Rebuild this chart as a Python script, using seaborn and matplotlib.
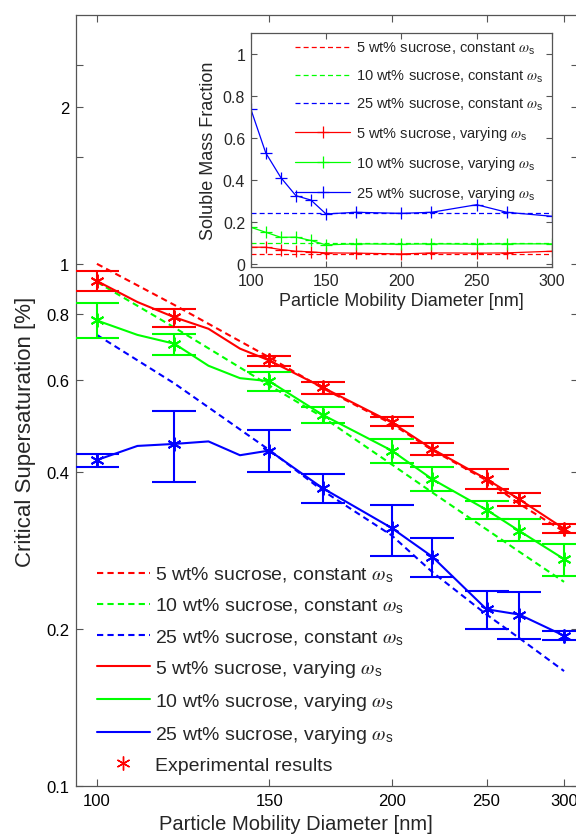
import numpy as np
import pandas as pd
import matplotlib
matplotlib.use("Agg")
import matplotlib.pyplot as plt
import seaborn as sns
from matplotlib.lines import Line2D
from matplotlib.ticker import NullLocator

# ---------------- data ----------------
x_model = [100, 120, 150, 170, 200, 220, 250, 270, 300]
const_5 = [1.00, 0.834, 0.662, 0.578, 0.494, 0.440, 0.385, 0.347, 0.307]
const_10 = [0.923, 0.755, 0.585, 0.509, 0.413, 0.365, 0.310, 0.281, 0.246]
const_25 = [0.731, 0.590, 0.440, 0.368, 0.302, 0.257, 0.213, 0.192, 0.166]

x_vary = [100, 110, 120, 130, 140, 150, 170, 200, 220, 250, 270, 300]
vary_5 = [0.927, 0.845, 0.790, 0.751, 0.688, 0.653, 0.580, 0.497, 0.442, 0.387, 0.354, 0.311]
vary_10 = [0.779, 0.731, 0.703, 0.638, 0.604, 0.596, 0.514, 0.439, 0.387, 0.338, 0.308, 0.272]
vary_25 = [0.421, 0.448, 0.452, 0.457, 0.430, 0.439, 0.372, 0.312, 0.275, 0.218, 0.213, 0.194]

x_exp = [100, 120, 150, 170, 200, 220, 250, 270, 300]
exp_5 = [0.927, 0.790, 0.653, 0.580, 0.497, 0.442, 0.387, 0.354, 0.311]
exp_5_lo = [0.888, 0.757, 0.637, 0.564, 0.490, 0.431, 0.371, 0.344, 0.305]
exp_5_hi = [0.967, 0.820, 0.667, 0.595, 0.509, 0.454, 0.405, 0.364, 0.317]
exp_10 = [0.779, 0.703, 0.596, 0.514, 0.439, 0.387, 0.338, 0.308, 0.272]
exp_10_lo = [0.720, 0.669, 0.572, 0.496, 0.416, 0.367, 0.325, 0.294, 0.252]
exp_10_hi = [0.841, 0.734, 0.620, 0.533, 0.462, 0.408, 0.351, 0.325, 0.291]
exp_25 = [0.421, 0.452, 0.439, 0.372, 0.312, 0.275, 0.218, 0.213, 0.194]
exp_25_lo = [0.408, 0.382, 0.400, 0.349, 0.276, 0.251, 0.200, 0.191, 0.190]
exp_25_hi = [0.433, 0.522, 0.480, 0.395, 0.346, 0.299, 0.236, 0.235, 0.198]

# inset: soluble mass fraction
x_inset = [100, 110, 120, 130, 140, 150, 170, 200, 220, 250, 270, 300]
smf_const = [0.05, 0.10, 0.245]
smf_5 = [0.082, 0.082, 0.071, 0.063, 0.060, 0.055, 0.054, 0.050, 0.055, 0.054, 0.055, 0.063]
smf_10 = [0.177, 0.153, 0.129, 0.130, 0.114, 0.093, 0.098, 0.096, 0.098, 0.096, 0.098, 0.098]
smf_25 = [0.740, 0.530, 0.413, 0.327, 0.306, 0.240, 0.248, 0.243, 0.248, 0.284, 0.248, 0.229]

x_ticks = [100, 150, 200, 250, 300]
y_ticks = [0.1, 0.2, 0.4, 0.6, 0.8, 1, 1.6, 2, 2.4]
y_ticklabels = ["0.1", "0.2", "0.4", "0.6", "0.8", "1", "", "2", ""]
inset_yticks = [0, 0.2, 0.4, 0.6, 0.8, 1]

series = ["5 wt% sucrose", "10 wt% sucrose", "25 wt% sucrose"]
colors = ["#ff0000", "#00ff00", "#0000ff"]
omega = r"$\omega_\mathregular{s}$"

# ---------------- style ----------------
sns.set_style("ticks")
plt.rcParams["font.family"] = ["Liberation Sans", "DejaVu Sans"]
plt.rcParams["mathtext.fontset"] = "stix"
spine_col = "#555555"

W, H = 576, 837
fig = plt.figure(figsize=(W / 100, H / 100), dpi=100)

# main axes (pixel geometry)
L, R, T, B = 76, 578, 15.7, 787
ax = fig.add_axes([L / W, (H - B) / H, (R - L) / W, (B - T) / H])
ax.set_xscale("log")
ax.set_yscale("log")

dash = (3.0, 2.0)
const_main = [const_5, const_10, const_25]
vary_main = [vary_5, vary_10, vary_25]
exps = [(exp_5, exp_5_lo, exp_5_hi), (exp_10, exp_10_lo, exp_10_hi), (exp_25, exp_25_lo, exp_25_hi)]

for c, yv in zip(colors, const_main):
    df = pd.DataFrame({"d": x_model, "s": yv})
    sns.lineplot(data=df, x="d", y="s", ax=ax, color=c, lw=1.5, estimator=None,
                 sort=False, legend=False, dashes=False, linestyle=(0, dash))
for c, yv in zip(colors, vary_main):
    df = pd.DataFrame({"d": x_vary, "s": yv})
    sns.lineplot(data=df, x="d", y="s", ax=ax, color=c, lw=1.5, estimator=None,
                 sort=False, legend=False)
ast = (6, 2, 0)
for c, (m, lo, hi) in zip(colors, exps):
    m = np.array(m); lo = np.array(lo); hi = np.array(hi)
    ax.errorbar(x_exp, m, yerr=[m - lo, hi - m], fmt="none", ecolor=c,
                elinewidth=1.5, capsize=16, capthick=1.5, zorder=4)
    ax.plot(x_exp, m, linestyle="none", marker=ast, markersize=10,
            markeredgecolor=c, markeredgewidth=1.4, color=c, zorder=5)

ax.set_xlim(95.2, 310.0)
ax.set_ylim(0.1, 3.0)
ax.set_xticks(x_ticks, labels=[str(v) for v in x_ticks])
ax.set_yticks(y_ticks, labels=y_ticklabels)
ax.xaxis.set_minor_locator(NullLocator())
ax.yaxis.set_minor_locator(NullLocator())
ax.tick_params(which="both", direction="in", top=True, right=True, length=5,
               width=0.8, color=spine_col, labelsize=12, labelcolor="black")
ax.tick_params(axis="y", pad=5)
ax.tick_params(axis="x", pad=5)
for sp in ax.spines.values():
    sp.set_color(spine_col)
    sp.set_linewidth(0.9)

ax.set_xlabel("Particle Mobility Diameter [nm]", fontsize=14.5)
ax.set_ylabel("Critical Supersaturation [%]", fontsize=16)
ax.xaxis.set_label_coords((295.5 - L) / (R - L), (B - 815) / (B - T))
ax.yaxis.set_label_coords((36 - L) / (R - L), (B - 432) / (B - T))

handles = []
labels = []
for c, s in zip(colors, series):
    handles.append(Line2D([], [], color=c, lw=1.5, linestyle=(0, dash)))
    labels.append(f"{s}, constant {omega}")
for c, s in zip(colors, series):
    handles.append(Line2D([], [], color=c, lw=1.5))
    labels.append(f"{s}, varying {omega}")
handles.append(Line2D([], [], color=colors[0], linestyle="none", marker=ast,
                      markersize=10, markeredgewidth=1.0))
labels.append("Experimental results")
ax.legend(handles, labels, loc="upper left",
          bbox_to_anchor=((97 - L) / (R - L), (B - 566) / (B - T)),
          frameon=False, fontsize=14, handlelength=2.7, handletextpad=0.3,
          labelspacing=0.60, borderpad=0, borderaxespad=0)

# ---------------- inset ----------------
iL, iR, iT, iB = 250.7, 552, 34, 268
ins = fig.add_axes([iL / W, (H - iB) / H, (iR - iL) / W, (iB - iT) / H])
ins.set_facecolor("white")
ins_dash = (4.0, 2.5)
for c, v in zip(colors, smf_const):
    df = pd.DataFrame({"d": [100, 300], "f": [v, v]})
    sns.lineplot(data=df, x="d", y="f", ax=ins, color=c, lw=0.9, estimator=None,
                 sort=False, legend=False, linestyle=(0, ins_dash))
for c, yv in zip(colors, [smf_5, smf_10, smf_25]):
    df = pd.DataFrame({"d": x_inset, "f": yv})
    sns.lineplot(data=df, x="d", y="f", ax=ins, color=c, lw=0.9, estimator=None,
                 sort=False, legend=False, marker="+", markersize=8,
                 markeredgewidth=0.9, markeredgecolor=c)
ins.set_xlim(100, 300)
ins.set_ylim(-0.012, 1.1)
ins.set_xticks(x_ticks, labels=[str(v) for v in x_ticks])
ins.set_yticks(inset_yticks, labels=["0", "0.2", "0.4", "0.6", "0.8", "1"])
ins.tick_params(direction="in", top=True, right=True, length=4, width=0.8,
                color=spine_col, labelsize=11.5, pad=4)
for sp in ins.spines.values():
    sp.set_color(spine_col)
    sp.set_linewidth(0.9)
ins.set_xlabel("Particle Mobility Diameter [nm]", fontsize=13, labelpad=3)
ins.set_ylabel("Soluble Mass Fraction", fontsize=13, labelpad=4)

ih = []
il = []
for c, s in zip(colors, series):
    ih.append(Line2D([], [], color=c, lw=0.9, linestyle=(0, ins_dash)))
    il.append(f"{s}, constant {omega}")
for c, s in zip(colors, series):
    ih.append(Line2D([], [], color=c, lw=0.9, marker="+", markersize=8,
                     markeredgewidth=0.9))
    il.append(f"{s}, varying {omega}")
ins.legend(ih, il, loc="upper left",
           bbox_to_anchor=((295 - iL) / (iR - iL), (iB - 41) / (iB - iT)),
           frameon=False, fontsize=10.5, handlelength=3.8, handletextpad=0.35,
           labelspacing=0.82, borderpad=0, borderaxespad=0)

fig.savefig("out.png", dpi=100)
